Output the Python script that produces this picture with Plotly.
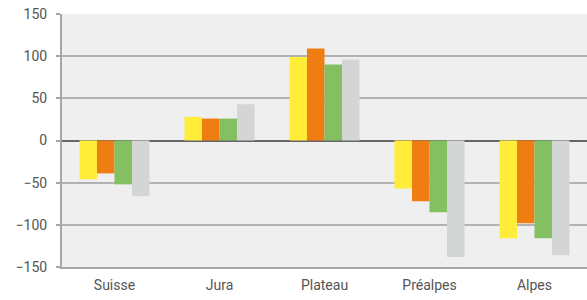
import plotly.graph_objects as go

categories = ["Suisse", "Jura", "Plateau", "Préalpes", "Alpes"]
series_a = [-46, 28, 99, -57, -116]
series_b = [-39, 26, 109, -72, -98]
series_c = [-52, 26, 90, -85, -116]
series_d = [-66, 43, 96, -138, -136]
colors = ["#FFED3A", "#EF7D12", "#84BF62", "#D4D6D5"]
tick_vals = [-150, -100, -50, 0, 50, 100, 150]

fig = go.Figure()
for vals, col in zip([series_a, series_b, series_c, series_d], colors):
    fig.add_trace(go.Bar(x=categories, y=vals, marker=dict(color=col, line=dict(width=0)),
                         showlegend=False, hoverinfo="skip"))

fig.update_layout(
    width=587, height=300,
    margin=dict(l=62, r=0, t=14, b=33),
    paper_bgcolor="white", plot_bgcolor="#EFEFEF",
    barmode="group", bargap=0.333, bargroupgap=0,
    font=dict(family="Roboto", size=14, color="#555555"),
)
fig.update_yaxes(range=[-150, 150], tickvals=tick_vals, showgrid=True,
                 gridcolor="#B2B2B2", gridwidth=1.5,
                 zeroline=True, zerolinecolor="#666666", zerolinewidth=2,
                 showline=True, linecolor="#A6A6A6", linewidth=2,
                 ticks="outside", ticklen=4, tickcolor="#A6A6A6", tickwidth=2,
                 tickfont=dict(size=14), ticklabelstandoff=6,
                 layer="above traces", automargin=False)
fig.update_xaxes(showline=True, linecolor="#A6A6A6", linewidth=2, ticks="",
                 tickfont=dict(size=14), ticklabelstandoff=4, automargin=False)

fig.write_html("out.html", config={"displayModeBar": False},
               post_script="document.body.style.margin='0';document.body.style.overflow='hidden';")
